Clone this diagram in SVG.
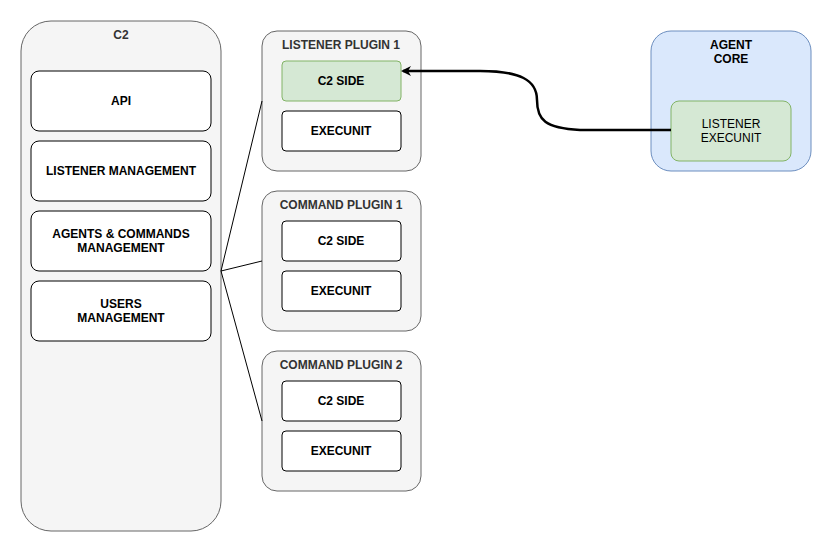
<svg xmlns="http://www.w3.org/2000/svg" width="834" height="554" viewBox="0 0 834 554">
<defs>
<style>
.cont{fill:#f5f5f5;stroke:#666;stroke-width:1}
.box{fill:#fff;stroke:#000;stroke-width:1}
.grn{fill:#d5e8d4;stroke:#82b366;stroke-width:1}
.blu{fill:#dae8fc;stroke:#6c8ebf;stroke-width:1}
text{font-family:"Liberation Sans",Arial,sans-serif;font-size:12px;font-weight:bold;text-anchor:middle}
.t{fill:#333}
.n{font-weight:normal}
</style>
<marker id="ah" markerWidth="10" markerHeight="10" refX="8" refY="5" orient="auto" markerUnits="userSpaceOnUse">
<path d="M0,0 L10,5 L0,10 L3,5 Z" fill="#000"/>
</marker>
</defs>
<rect width="834" height="554" fill="#fff"/>
<g id="c2">
<rect class="cont" x="21" y="21" width="200" height="510" rx="30"/>
<text class="t" x="121" y="39">C2</text>
</g>
<g id="api"><rect class="box" x="31" y="71" width="180" height="60" rx="8"/><text x="121" y="105">API</text></g>
<g id="listener-mgmt"><rect class="box" x="31" y="141" width="180" height="60" rx="8"/><text x="121" y="175">LISTENER MANAGEMENT</text></g>
<g id="agents-mgmt"><rect class="box" x="31" y="211" width="180" height="60" rx="8"/><text x="121" y="238">AGENTS &amp; COMMANDS</text><text x="121" y="252">MANAGEMENT</text></g>
<g id="users-mgmt"><rect class="box" x="31" y="281" width="180" height="60" rx="8"/><text x="121" y="308">USERS</text><text x="121" y="322">MANAGEMENT</text></g>
<g id="listener-plugin">
<rect class="cont" x="262" y="31" width="159" height="140" rx="15"/>
<text class="t" x="341" y="49">LISTENER PLUGIN 1</text>
<rect class="grn" x="282" y="61" width="119" height="40" rx="4"/><text x="341" y="85">C2 SIDE</text>
<rect class="box" x="282" y="111" width="119" height="40" rx="4"/><text x="341" y="135">EXECUNIT</text>
</g>
<g id="command-plugin-1">
<rect class="cont" x="262" y="191" width="159" height="140" rx="15"/>
<text class="t" x="341" y="209">COMMAND PLUGIN 1</text>
<rect class="box" x="282" y="221" width="119" height="40" rx="4"/><text x="341" y="245">C2 SIDE</text>
<rect class="box" x="282" y="271" width="119" height="40" rx="4"/><text x="341" y="295">EXECUNIT</text>
</g>
<g id="command-plugin-2">
<rect class="cont" x="262" y="351" width="159" height="140" rx="15"/>
<text class="t" x="341" y="369">COMMAND PLUGIN 2</text>
<rect class="box" x="282" y="381" width="119" height="40" rx="4"/><text x="341" y="405">C2 SIDE</text>
<rect class="box" x="282" y="431" width="119" height="40" rx="4"/><text x="341" y="455">EXECUNIT</text>
</g>
<g id="agent-core">
<rect class="blu" x="651" y="31" width="160" height="140" rx="20"/>
<text x="731" y="49">AGENT</text><text x="731" y="63">CORE</text>
<rect class="grn" x="671" y="101" width="120" height="60" rx="8"/>
<text class="n" x="731" y="128">LISTENER</text><text class="n" x="731" y="142">EXECUNIT</text>
</g>
<g id="connectors" fill="none" stroke="#000">
<path d="M221,271 L262,101"/>
<path d="M221,271 L262,261"/>
<path d="M221,271 L262,421"/>
<path d="M671,130 L580,130 C545,128 537,120 537,100 C537,80 520,71 480,71 L403,71" stroke-width="2.5" marker-end="url(#ah)"/>
</g>
</svg>
